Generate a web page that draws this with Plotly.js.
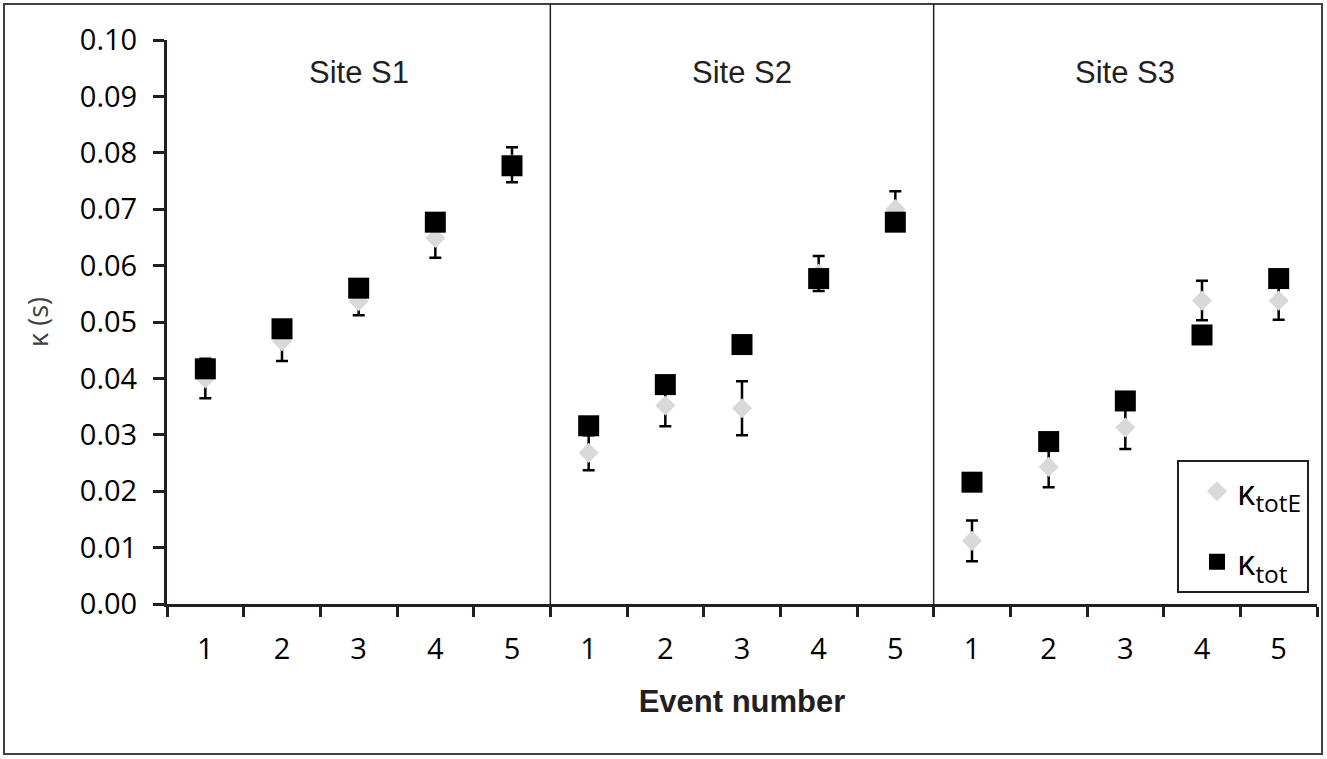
<!DOCTYPE html>
<html>
<head>
<meta charset="utf-8">
<script src="https://cdn.plot.ly/plotly-3.0.1.min.js"></script>
<style>
  html, body { margin: 0; padding: 0; background: #ffffff; }
  #chart { width: 1327px; height: 759px; }
</style>
</head>
<body>
<div id="chart"></div>
<script>
// ---- data ----
const sites = ["Site S1", "Site S2", "Site S3"];
const events = ["1", "2", "3", "4", "5"];

// kappa_totE (grey diamonds) with error bars
const kappaTotE = [0.0400, 0.0466, 0.0537, 0.0649, 0.0779,
                   0.0268, 0.0352, 0.0347, 0.0586, 0.0700,
                   0.0112, 0.0243, 0.0313, 0.0538, 0.0538];
const kappaTotEErr = [0.0035, 0.0035, 0.0025, 0.0035, 0.0031,
                      0.0031, 0.0037, 0.0048, 0.0031, 0.0032,
                      0.0036, 0.0036, 0.0038, 0.0035, 0.0034];
// kappa_tot (black squares)
const kappaTot = [0.0417, 0.0488, 0.0560, 0.0677, 0.0777,
                  0.0316, 0.0389, 0.0460, 0.0577, 0.0677,
                  0.0216, 0.0288, 0.0360, 0.0477, 0.0577];

// ---- build categories ----
const cats = [];
const catLabels = [];
sites.forEach(s => events.forEach(e => { cats.push(s + "|" + e); catLabels.push(e); }));

const dark = "#231f20";
const tickFont = { family: "Open Sans, Noto Sans, sans-serif", size: 29, color: "#000000" };

const traceE = {
  type: "scatter", mode: "markers",
  x: cats, y: kappaTotE,
  name: "κ<sub>totE</sub>",
  legendgroup: "a",
  marker: { symbol: "diamond", size: 15.5, color: "#d9d9d9", line: { width: 0 } },
  error_y: { type: "data", array: kappaTotEErr, visible: true, color: "#000000", thickness: 2.5, width: 6 },
  hoverinfo: "x+y"
};
const traceT = {
  type: "scatter", mode: "markers",
  x: cats, y: kappaTot,
  name: "κ<sub>tot</sub>",
  legendgroup: "b",
  marker: { symbol: "square", size: 21, color: "#000000", line: { width: 0 } },
  hoverinfo: "x+y"
};

// pixel helpers for paper-coordinate decorations (frame)
const L = 167, R = 10, T = 40, B = 155, W = 1327, H = 759;
const pw = W - L - R, ph = H - T - B;
const px = v => (v - L) / pw;
const py = v => (H - B - v) / ph;

const shapes = [
  // outer frame
  { type: "rect", xref: "paper", yref: "paper",
    x0: px(4), x1: px(1322), y0: py(754), y1: py(4),
    line: { color: "#404040", width: 2 }, fillcolor: "rgba(0,0,0,0)", layer: "below" }
];
// panel dividers between sites (category boundaries)
for (let i = 1; i < sites.length; i++) {
  const b = i * events.length - 0.5;
  shapes.push({ type: "line", xref: "x", yref: "paper", x0: b, x1: b, y0: 0, y1: py(4),
                line: { color: dark, width: 1.5 }, layer: "below" });
}

const annotations = sites.map((s, i) => ({
  xref: "x", yref: "paper",
  x: cats[i * events.length + 2], y: py(73),
  text: s, showarrow: false, xanchor: "center", yanchor: "middle",
  font: { family: "Liberation Sans, Arial, sans-serif", size: 31, color: dark }
}));

const layout = {
  width: W, height: H,
  margin: { l: L, r: R, t: T, b: B, pad: 0 },
  paper_bgcolor: "#ffffff", plot_bgcolor: "#ffffff",
  showlegend: true,
  legend: {
    x: px(1177), y: py(460), xanchor: "left", yanchor: "top",
    bgcolor: "#ffffff", bordercolor: dark, borderwidth: 2,
    font: { family: "Open Sans, Noto Sans, sans-serif", size: 35, color: "#000000" },
    traceorder: "grouped", tracegroupgap: 22,
    itemwidth: 30, indentation: 18
  },
  xaxis: {
    type: "category",
    tickmode: "array", tickvals: cats, ticktext: catLabels,
    tickson: "boundaries",
    ticks: "outside", ticklen: 10, tickwidth: 3, tickcolor: dark,
    showline: true, linecolor: dark, linewidth: 3,
    showgrid: false, zeroline: false,
    tickfont: tickFont, ticklabelstandoff: 17,
    range: [-0.5, cats.length - 0.5],
    title: { text: "\u00a0\u00a0\u00a0<b>Event number</b>", font: { family: "Liberation Sans, Arial, sans-serif", size: 31, color: dark }, standoff: 25 }
  },
  yaxis: {
    range: [0, 0.10], tickmode: "linear", tick0: 0, dtick: 0.01, tickformat: ".2f",
    ticks: "outside", ticklen: 11, tickwidth: 3, tickcolor: dark,
    showline: true, linecolor: dark, linewidth: 3,
    showgrid: false, zeroline: false,
    tickfont: tickFont, ticklabelstandoff: 10,
    title: { text: "κ (s)", font: { family: "Open Sans, Noto Sans, sans-serif", size: 27, color: "#404040" }, standoff: 24 }
  },
  shapes: shapes,
  annotations: annotations
};

Plotly.newPlot("chart", [traceE, traceT], layout, { displayModeBar: false, staticPlot: true });
</script>
</body>
</html>
